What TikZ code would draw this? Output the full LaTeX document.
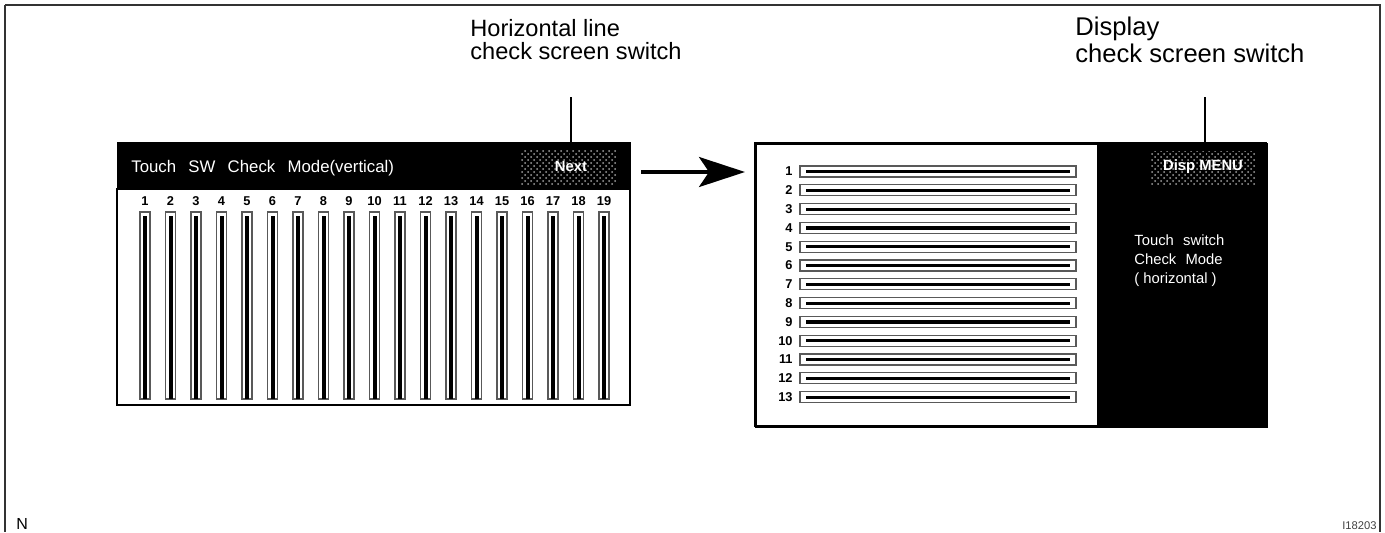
\documentclass[tikz,border=0pt]{standalone}
\usepackage{fontspec}
\setmainfont{Liberation Sans}
\usetikzlibrary{arrows.meta,patterns}
\begin{document}
\begin{tikzpicture}[x=0.5pt,y=-0.5pt,
  annot/.style={font=\fontsize{11.8}{14}\selectfont, anchor=base west, inner sep=0pt},
  annotb/.style={font=\fontsize{12.8}{15}\selectfont, anchor=base west, inner sep=0pt},
  hdrtext/.style={font=\fontsize{8.4}{10}\selectfont, text=white, anchor=base west, inner sep=0pt},
  numlbl/.style={font=\fontsize{6.4}{8}\selectfont\bfseries, inner sep=0pt},
  btnlbl/.style={font=\fontsize{7.4}{8}\selectfont\bfseries, text=white, inner sep=0pt},
  btnarea/.style={pattern=crosshatch dots, pattern color=gray!75},
  sidetext/.style={font=\fontsize{7.4}{9.5}\selectfont, text=white, anchor=north west, inner sep=0pt, align=left},
  barout/.style={draw=black!65, line width=0.6pt, fill=white},
  leader/.style={line width=0.6pt},
  flow/.style={line width=1.6pt, -{Stealth[length=23pt,width=15pt,inset=5pt]}}
]
\useasboundingbox (0,0) rectangle (1385,532);
% outer frame
\draw[line width=1.2pt, black!80] (5,5) -- (1380,5) -- (1380,532);
\draw[line width=1.2pt, black!80] (5,5) -- (5,532);

% ---------- left screen ----------
\draw[line width=0.7pt, fill=white] (117,189) rectangle (630,405);
\fill (117,142) rectangle (631,189);
\node[hdrtext] (lhdr) at (131,172) {Touch\hspace{0.45em} SW\hspace{0.45em} Check\hspace{0.45em} Mode(vertical)};
\fill[btnarea] (520,149) rectangle (616,184);
\node[btnlbl] (nextlbl) at (571,166) {Next};
\coordinate (lhead) at (631,172);

\foreach \i in {1,...,19} {
  \pgfmathsetmacro{\xx}{145+25.5*(\i-1)}
  \node[numlbl] (v\i) at (\xx,201) {\i};
  \draw[barout] (\xx-5,212) rectangle (\xx+5,399);
  \fill (\xx-2,216) rectangle (\xx+2,399);
}

% ---------- arrow ----------
\coordinate (rleft) at (755,172);
\draw[flow] ([xshift=5pt]lhead) -- ([xshift=-5pt]rleft);

% ---------- right screen ----------
\node[draw, line width=1pt, minimum width=255.5pt, minimum height=141.5pt, inner sep=0pt, anchor=north west] (rpanel) at (755,143) {};
\fill (1097,143) rectangle (1266,426);
\draw[line width=1pt] (755,143) rectangle (1266,426);
\fill[btnarea] (1150,151) rectangle (1256,184);
\node[btnlbl] (displbl) at (1203,167) {Disp MENU};
\node[sidetext] (side) at (1134,234) {Touch\hspace{0.35em} switch\\Check\hspace{0.35em} Mode\\( horizontal )};

\foreach \j in {1,...,13} {
  \pgfmathsetmacro{\yy}{171.5+18.8*(\j-1)}
  \node[numlbl, anchor=east] (h\j) at (793,\yy) {\j};
  \draw[barout] (800,\yy-5.5) rectangle (1076,\yy+5.5);
  \fill (806,\yy-1.6) rectangle (1070,\yy+1.6);
}

% ---------- annotations ----------
\node[annot] (a1) at (470,36) {Horizontal line};
\node[annot] (a1b) at (470,59) {check screen switch};
\coordinate (l1) at (571,97);
\draw[leader] (l1) -- (nextlbl.north);

\node[annotb] (a2) at (1075,35) {Display};
\node[annotb] (a2b) at (1075,62) {check screen switch};
\coordinate (l2) at (1205,97);
\draw[leader] (l2) -- (displbl.north -| l2);

\node[font=\fontsize{8}{9}\selectfont, anchor=base west, inner sep=0pt] (nlbl) at (16,529) {N};
\node[font=\fontsize{5.6}{7}\selectfont, text=black!75, anchor=base east, inner sep=0pt] (code) at (1377,529) {I18203};
\end{tikzpicture}
\end{document}
